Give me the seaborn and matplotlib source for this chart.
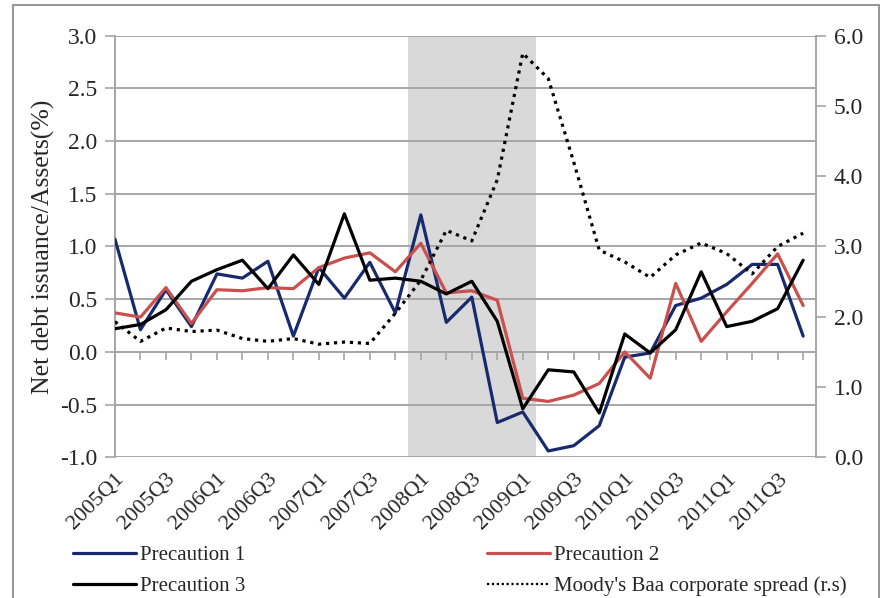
import numpy as np
import pandas as pd
import matplotlib
matplotlib.use("Agg")
import matplotlib.pyplot as plt
from matplotlib.patches import Rectangle
from matplotlib.lines import Line2D
import seaborn as sns

# Quarterly periods 2005Q1 - 2011Q4
quarters = [f"{y}Q{q}" for y in range(2005, 2012) for q in range(1, 5)]

precaution_1 = [1.07, 0.21, 0.59, 0.24, 0.74, 0.70, 0.86, 0.15, 0.80, 0.51,
                0.85, 0.37, 1.30, 0.28, 0.52, -0.67, -0.57, -0.94, -0.89, -0.70,
                -0.05, -0.01, 0.44, 0.51, 0.64, 0.83, 0.83, 0.15]
precaution_2 = [0.37, 0.33, 0.61, 0.27, 0.59, 0.58, 0.61, 0.60, 0.80, 0.89,
                0.94, 0.76, 1.03, 0.56, 0.58, 0.49, -0.44, -0.47, -0.41, -0.30,
                0.00, -0.25, 0.65, 0.10, 0.38, 0.65, 0.93, 0.44]
precaution_3 = [0.22, 0.26, 0.40, 0.67, 0.78, 0.87, 0.60, 0.92, 0.64, 1.31,
                0.68, 0.70, 0.67, 0.55, 0.67, 0.29, -0.54, -0.17, -0.19, -0.58,
                0.17, -0.01, 0.21, 0.76, 0.24, 0.29, 0.41, 0.87]
baa_spread = [1.93, 1.65, 1.84, 1.79, 1.81, 1.69, 1.65, 1.69, 1.61, 1.64,
              1.62, 2.05, 2.52, 3.23, 3.08, 3.95, 5.75, 5.39, 4.20, 2.95,
              2.78, 2.56, 2.88, 3.05, 2.90, 2.61, 3.00, 3.19]

# Crisis window shaded: 2008Q1 through 2009Q1
crisis_start, crisis_end = "2008Q1", "2009Q1"

df = pd.DataFrame({
    "t": np.arange(len(quarters)),
    "quarter": quarters,
    "Precaution 1": precaution_1,
    "Precaution 2": precaution_2,
    "Precaution 3": precaution_3,
    "Moody's Baa corporate spread (r.s)": baa_spread,
})

sns.set_style("white")
plt.rcParams["font.family"] = ["Liberation Serif", "DejaVu Serif"]
plt.rcParams["axes.unicode_minus"] = False

fig = plt.figure(figsize=(8.83, 5.98), dpi=100)
ax = fig.add_axes([0.1302, 0.2353, 0.924 - 0.1302, 0.9403 - 0.2353])
ax2 = ax.twinx()

c_blue, c_red, c_black = "#182a6e", "#c9504d", "#000000"
grid_c = "#a6a6a6"
lw = 2.3

i0 = quarters.index(crisis_start) - 0.5
i1 = quarters.index(crisis_end) + 0.5
ax.axvspan(i0, i1, color="#d9d9d9", zorder=0, lw=0)

sns.lineplot(data=df, x="t", y="Precaution 1", ax=ax, color=c_blue, lw=lw, zorder=3)
sns.lineplot(data=df, x="t", y="Precaution 2", ax=ax, color=c_red, lw=lw, zorder=3)
sns.lineplot(data=df, x="t", y="Precaution 3", ax=ax, color=c_black, lw=lw, zorder=4)
sns.lineplot(data=df, x="t", y="Moody's Baa corporate spread (r.s)", ax=ax2,
             color="black", lw=2.3, linestyle=(0, (1, 1.5)), zorder=3)

n = len(quarters)
ax.set_xlim(0, n - 0.5)
ax.set_ylim(-1.0, 3.0)
ax2.set_ylim(0.0, 6.0)

# Left axis
ax.set_yticks(np.arange(-1.0, 3.01, 0.5))
ax.set_yticklabels([f"{v:.1f}" for v in np.arange(-1.0, 3.01, 0.5)], fontsize=17)
ax.yaxis.grid(True, color=grid_c, lw=1.4)
ax.set_axisbelow(True)
ax.tick_params(axis="y", which="major", direction="out", length=7, width=1.2,
               color=grid_c, pad=6, left=True)
ax.set_ylabel("Net debt issuance/Assets(%)", fontsize=18.5, labelpad=3)

# Right axis
ax2.set_yticks(np.arange(0, 6.01, 1.0))
ax2.set_yticklabels([f"{v:.1f}" for v in np.arange(0, 6.01, 1.0)], fontsize=17)
ax2.tick_params(axis="y", direction="out", length=7, width=1.2, color=grid_c, pad=6)
ax2.set_ylabel("")
ax2.grid(False)

for a in (ax, ax2):
    for s in a.spines.values():
        s.set_visible(False)
ax.spines["left"].set_visible(True)
ax.spines["left"].set_color(grid_c)
ax.spines["left"].set_linewidth(1.4)
ax2.spines["right"].set_visible(True)
ax2.spines["right"].set_color(grid_c)
ax2.spines["right"].set_linewidth(1.4)

# Category axis crossing at zero with a tick per quarter
ax.spines["bottom"].set_visible(True)
ax.spines["bottom"].set_position(("data", 0))
ax.spines["bottom"].set_color(grid_c)
ax.spines["bottom"].set_linewidth(1.4)
ax.set_xticks(df["t"])
ax.set_xticklabels([])
ax.tick_params(axis="x", direction="out", length=6, width=1.2, color=grid_c, bottom=True)
ax.set_xlabel("")

# Quarter labels along the bottom of the plot
sec = ax.secondary_xaxis(0.0)
sec.set_xticks(df["t"][::2])
sec.set_xticklabels(df["quarter"][::2], rotation=45, ha="right",
                    rotation_mode="anchor", fontsize=16)
sec.tick_params(axis="x", length=0, pad=9)
sec.spines["bottom"].set_visible(False)

handles = [
    Line2D([], [], color=c_blue, lw=lw),
    Line2D([], [], color=c_black, lw=lw),
    Line2D([], [], color=c_red, lw=lw),
    Line2D([], [], color="black", lw=1.6, linestyle=(0, (1, 1.2))),
]
labels = ["Precaution 1", "Precaution 3", "Precaution 2",
          "Moody's Baa corporate spread (r.s)"]
fig.legend(handles, labels, ncol=2, frameon=False, fontsize=15,
           loc="lower left", bbox_to_anchor=(0.062, -0.028),
           handlelength=3.0, handletextpad=0.2, columnspacing=11.6,
           labelspacing=0.55)

# Outer chart border
fig.patches.append(Rectangle((13 / 883, -0.05), (879 - 13) / 883, 1 - 5 / 598 + 0.05,
                             transform=fig.transFigure, fill=False,
                             edgecolor="#8c8c8c", lw=1.3, zorder=10))

fig.savefig("out.png", dpi=100)
